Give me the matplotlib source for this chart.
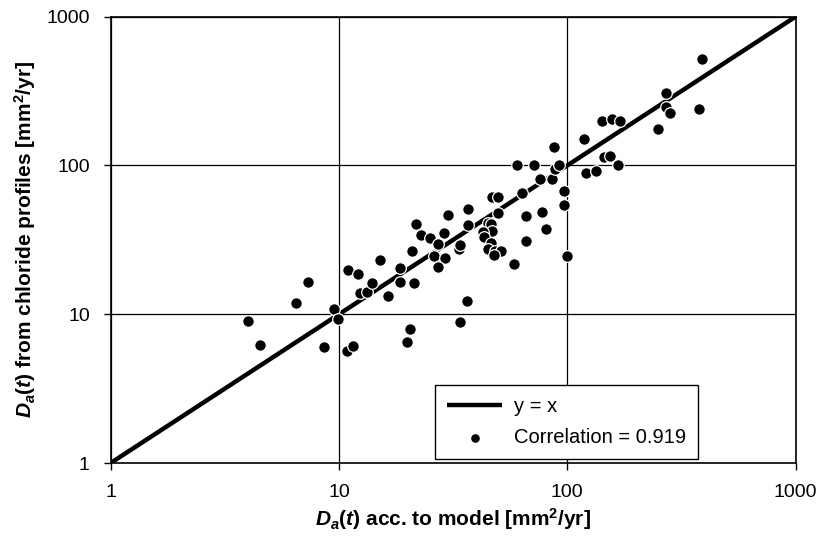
import matplotlib
matplotlib.use('Agg')
import matplotlib.pyplot as plt
import numpy as np

# D_a(t) acc. to model vs D_a(t) from chloride profiles [mm2/yr]
d_model = [4.01, 4.51, 6.48, 7.31, 8.60, 9.51, 9.87, 10.8, 11.5, 11.0,
           12.1, 12.4, 13.3, 14.0, 15.1, 16.4, 18.5, 18.5, 21.4, 20.9,
           21.7, 22.8, 25.0, 27.2, 26.0, 29.0, 27.1, 28.9, 30.0, 33.4,
           33.9, 36.7, 36.8, 36.3, 34.0, 20.5, 19.8, 46.8, 49.5, 49.8,
           45.1, 46.3, 46.8, 42.9, 43.2, 46.2, 45.1, 48.2, 51.1, 47.7,
           58.7, 63.3, 65.9, 65.9, 77.2, 80.9, 75.9, 85.4, 60.5, 71.3,
           88.3, 92.2, 87.4, 96.9, 96.9, 99.4, 118.4, 121.4, 133.6, 144.3,
           153.8, 166.3, 141.5, 156.5, 170.2, 250.4, 270.6, 270.6, 281.8, 378.6,
           387.9]
d_profile = [9.04, 6.18, 11.95, 16.5, 6.00, 10.8, 9.26, 5.68, 6.16, 19.8,
             18.6, 13.8, 14.2, 16.2, 23.0, 13.3, 20.4, 16.5, 16.1, 26.8,
             40.2, 34.3, 32.3, 29.5, 24.6, 23.8, 20.9, 35.3, 46.4, 27.4,
             29.2, 50.8, 40.0, 12.2, 8.93, 8.01, 6.50, 61.0, 61.0, 47.6,
             41.3, 40.4, 36.2, 35.5, 33.0, 30.0, 27.4, 26.8, 26.8, 25.1,
             21.6, 64.9, 46.1, 31.0, 48.8, 37.4, 81.0, 81.0, 100.3, 100.3,
             94.9, 100.3, 132.6, 67.0, 53.9, 24.5, 150.4, 89.2, 91.7, 114.4,
             115.1, 100.6, 198.8, 204.1, 198.8, 175.6, 308.0, 246.9, 225.0, 239.3,
             516.6]
correlation = 0.919

axis_limits = [1, 1000]
tick_values = [1, 10, 100, 1000]
tick_labels = ['1', '10', '100', '1000']

plt.rcParams['font.family'] = ['Liberation Sans', 'DejaVu Sans']
plt.rcParams['mathtext.fontset'] = 'custom'
plt.rcParams['mathtext.rm'] = 'Liberation Sans:bold'
plt.rcParams['mathtext.it'] = 'Liberation Sans:italic:bold'
plt.rcParams['mathtext.bf'] = 'Liberation Sans:bold'

fig = plt.figure(figsize=(8.18, 5.39), dpi=100)
axis = fig.add_axes([0.1353, 0.141, 0.8372, 0.828])

axis.plot(axis_limits, axis_limits, color='black', linewidth=3.2,
          solid_capstyle='butt', label='y = x', zorder=3)
axis.scatter(d_model, d_profile, s=70, color='black', edgecolors='white',
             linewidths=0.9, zorder=4,
             label=f'Correlation = {correlation:.3f}')

axis.set_xscale('log')
axis.set_yscale('log')
axis.set_xlim(axis_limits)
axis.set_ylim(axis_limits)

axis.set_xticks(tick_values, tick_labels)
axis.set_yticks(tick_values, tick_labels)
axis.minorticks_off()
axis.tick_params(axis='both', which='major', direction='out', length=5,
                 width=1, labelsize=14, color='black')
axis.tick_params(axis='x', pad=10)
axis.tick_params(axis='y', pad=10)

axis.grid(True, which='major', color='black', linewidth=0.9)
axis.set_axisbelow(True)
for spine in axis.spines.values():
    spine.set_linewidth(1.2)
    spine.set_color('black')

axis.set_xlabel(r'$D_a(t)$ acc. to model [mm$^2$/yr]', fontsize=15,
                fontweight='bold', labelpad=4)
axis.set_ylabel(r'$D_a(t)$ from chloride profiles [mm$^2$/yr]', fontsize=15,
                fontweight='bold', labelpad=6)

leg = axis.legend(loc='lower right', bbox_to_anchor=(0.8576, 0.009),
                  borderaxespad=0, fontsize=14.5,
                  frameon=True, fancybox=False, framealpha=1, edgecolor='black',
                  handlelength=2.7, handletextpad=0.6, borderpad=0.6,
                  labelspacing=0.6, markerscale=0.85)
leg.get_frame().set_linewidth(1.0)

fig.savefig('out.png', dpi=100)
